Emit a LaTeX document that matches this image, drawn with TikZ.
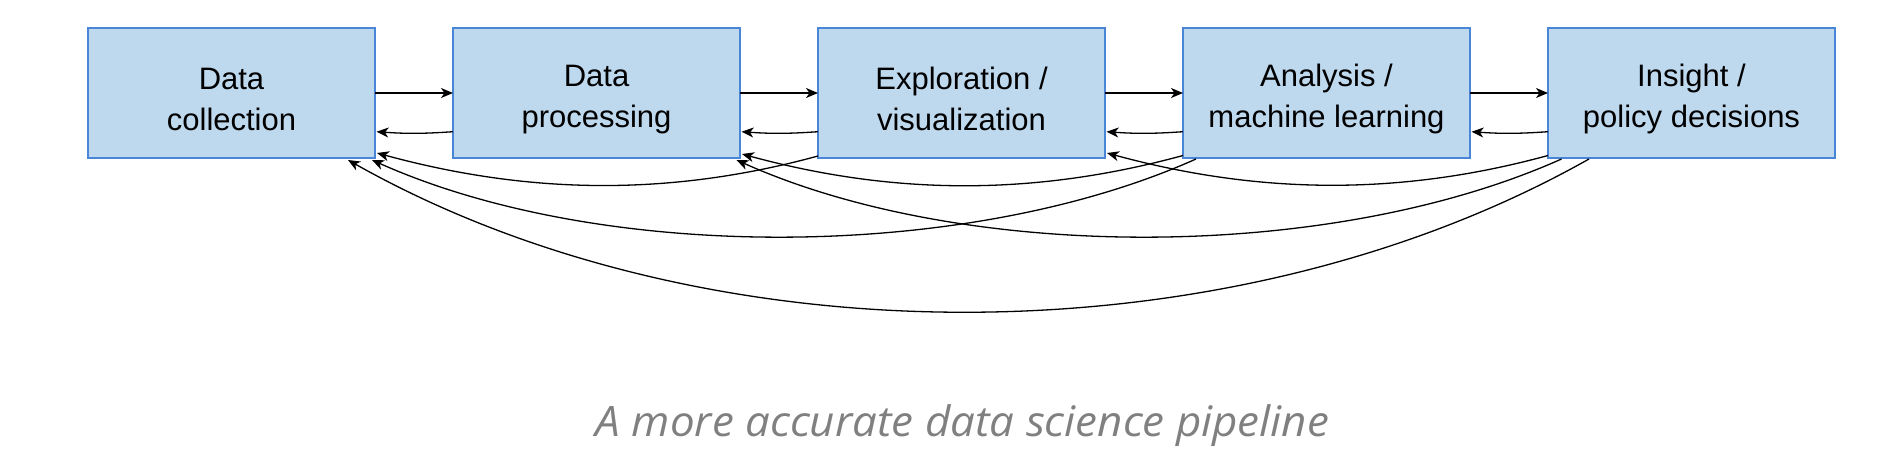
\documentclass[tikz,border=0pt]{standalone}
\usepackage{fontspec}
\setmainfont{Liberation Sans}
\newfontfamily\capfont{Open Sans}
\usetikzlibrary{arrows.meta}
\definecolor{boxfill}{RGB}{190,216,238}
\definecolor{boxline}{RGB}{74,134,216}
\definecolor{capgray}{RGB}{128,128,128}
\newcommand{\topstrut}{\rule{0pt}{34pt}}
\begin{document}
\begin{tikzpicture}[x=1pt,y=-1pt,
  stage/.style={draw=boxline,fill=boxfill,line width=1.3pt,minimum width=287pt,minimum height=130pt,inner sep=0pt,outer sep=0pt,align=center,font=\fontsize{31}{41}\selectfont},
  link/.style={line width=1.3pt,-{Stealth[length=12pt,width=10pt,inset=3.5pt]}}]
\useasboundingbox (0,0) rectangle (1880,460);
\node[stage] (b1) at (231.5,93) {\topstrut Data\\collection};
\node[stage] (b2) at (596.5,93) {\topstrut Data\\processing};
\node[stage] (b3) at (961.5,93) {\topstrut Exploration /\\visualization};
\node[stage] (b4) at (1326.5,93) {\topstrut Analysis /\\machine learning};
\node[stage] (b5) at (1691.5,93) {\topstrut Insight /\\policy decisions};
% forward
\draw[link] (b1.east) -- (b2.west);
\draw[link] (b2.east) -- (b3.west);
\draw[link] (b3.east) -- (b4.west);
\draw[link] (b4.east) -- (b5.west);
% short back
\draw[link] ([yshift=-38.7pt]b2.west) to[bend left=4] ([yshift=-38.7pt,xshift=1.5pt]b1.east);
\draw[link] ([yshift=-38.7pt]b3.west) to[bend left=4] ([yshift=-38.7pt,xshift=1.5pt]b2.east);
\draw[link] ([yshift=-38.7pt]b4.west) to[bend left=4] ([yshift=-38.7pt,xshift=1.5pt]b3.east);
\draw[link] ([yshift=-38.7pt]b5.west) to[bend left=4] ([yshift=-38.7pt,xshift=1.5pt]b4.east);
% skip one
\draw[link] ([yshift=2pt]b3.south west) .. controls +(-150,41) and +(150,41) .. ([xshift=2pt,yshift=5pt]b1.south east);
\draw[link] ([yshift=2.5pt]b4.south west) .. controls +(-150,41) and +(150,41) .. ([xshift=2pt,yshift=4pt]b2.south east);
\draw[link] ([yshift=2.5pt]b5.south west) .. controls +(-150,41) and +(150,41) .. ([xshift=2pt,yshift=5pt]b3.south east);
% skip two
\draw[link] ([xshift=13pt,yshift=-1pt]b4.south west) .. controls +(-230,103) and +(230,103) .. ([xshift=-3pt,yshift=-2pt]b1.south east);
\draw[link] ([xshift=13.5pt,yshift=-1pt]b5.south west) .. controls +(-230,103) and +(230,103) .. ([xshift=-3.5pt,yshift=-2pt]b2.south east);
% skip three
\draw[link] ([xshift=41pt,yshift=-1pt]b5.south west) .. controls +(-360,203) and +(360,203) .. ([xshift=-27pt,yshift=-2pt]b1.south east);
% caption
\node[font=\capfont\itshape\fontsize{42}{48}\selectfont,text=capgray,anchor=base] (cap) at (962.5,436) {\scalebox{1.045}[1]{A more accurate data science pipeline}};
\end{tikzpicture}
\end{document}
